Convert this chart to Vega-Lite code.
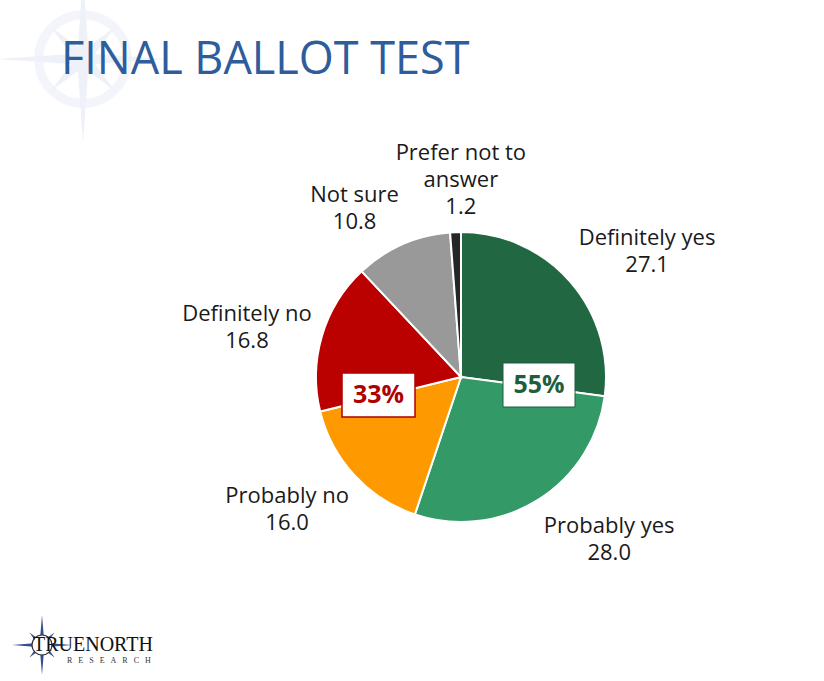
{
  "$schema": "https://vega.github.io/schema/vega-lite/v6.json",
  "width": 400,
  "height": 400,
  "autosize": "none",
  "padding": {"left": 261, "top": 177, "right": 163, "bottom": 104},
  "background": "white",
  "config": {"view": {"stroke": null}, "font": "Open Sans"},
  "title": {"text": "FINAL BALLOT TEST", "anchor": "start", "frame": "group", "font": "Open Sans", "fontSize": 45, "fontWeight": "normal", "color": "#2E5C9C", "dx": -200, "offset": -109},
  "datasets": {
    "slices": [
      {"i": 1, "name": "Definitely yes", "value": 27.1},
      {"i": 2, "name": "Probably yes", "value": 28.0},
      {"i": 3, "name": "Probably no", "value": 16.0},
      {"i": 4, "name": "Definitely no", "value": 16.8},
      {"i": 5, "name": "Not sure", "value": 10.8},
      {"i": 6, "name": "Prefer not to\nanswer", "value": 1.2}
    ],
    "summary": [
      {"group": "yes", "label": "55%"},
      {"group": "no", "label": "33%"}
    ],
    "logo": [
      {"part": "mark"}
    ]
  },
  "data": {"name": "slices"},
  "layer": [
    {
      "data": {"name": "logo"},
      "mark": {"type": "point", "shape": "circle", "filled": false, "stroke": "#EEF2F8", "strokeWidth": 9, "size": 7854},
      "encoding": {
        "x": {"datum": -1.89, "type": "quantitative", "scale": {"domain": [-1, 1], "nice": false, "zero": false}, "axis": null},
        "y": {"datum": 1.59, "type": "quantitative", "scale": {"domain": [-1, 1], "nice": false, "zero": false}, "axis": null}
      }
    },
    {
      "data": {"name": "logo"},
      "mark": {"type": "point", "shape": "M0,-1L0.06,-0.14L0.389,-0.389L0.14,-0.06L1,0L0.14,0.06L0.389,0.389L0.06,0.14L0,1L-0.06,0.14L-0.389,0.389L-0.14,0.06L-1,0L-0.14,-0.06L-0.389,-0.389L-0.06,-0.14Z", "filled": true, "fill": "#EEF2F8", "strokeWidth": 0, "opacity": 1, "size": 28900},
      "encoding": {
        "x": {"datum": -1.89, "type": "quantitative"},
        "y": {"datum": 1.59, "type": "quantitative"}
      }
    },
    {
      "mark": {"type": "arc", "outerRadius": 145, "stroke": "white", "strokeWidth": 2},
      "encoding": {
        "theta": {"field": "value", "type": "quantitative", "stack": true},
        "order": {"field": "i", "type": "quantitative"},
        "color": {
          "field": "name", "type": "nominal", "legend": null,
          "scale": {
            "domain": ["Definitely yes", "Probably yes", "Probably no", "Definitely no", "Not sure", "Prefer not to\nanswer"],
            "range": ["#216741", "#339966", "#FF9900", "#BB0000", "#999999", "#262626"]
          }
        }
      }
    },
    {
      "transform": [{"calculate": "datum.name + '\\n' + format(datum.value, '.1f')", "as": "lbl"}],
      "encoding": {
        "theta": {"field": "value", "type": "quantitative", "stack": true},
        "order": {"field": "i", "type": "quantitative"},
        "detail": {"field": "name", "type": "nominal"}
      },
      "layer": [
        {
          "mark": {"type": "text", "radius": 232, "thetaOffset": 0.0785, "fontSize": 22, "lineBreak": "\n", "lineHeight": 27, "color": "#1a1a1a", "align": "center", "baseline": "middle"},
          "encoding": {"text": {"condition": {"test": "datum.i === 1", "field": "lbl", "type": "nominal"}, "value": ""}}
        },
        {
          "mark": {"type": "text", "radius": 210, "thetaOffset": -0.227, "fontSize": 22, "lineBreak": "\n", "lineHeight": 27, "color": "#1a1a1a", "align": "center", "baseline": "middle"},
          "encoding": {"text": {"condition": {"test": "datum.i === 2", "field": "lbl", "type": "nominal"}, "value": ""}}
        },
        {
          "mark": {"type": "text", "radius": 210.5, "thetaOffset": 0.145, "fontSize": 22, "lineBreak": "\n", "lineHeight": 27, "color": "#1a1a1a", "align": "center", "baseline": "middle"},
          "encoding": {"text": {"condition": {"test": "datum.i === 3", "field": "lbl", "type": "nominal"}, "value": ""}}
        },
        {
          "mark": {"type": "text", "radius": 223, "thetaOffset": -0.003, "fontSize": 22, "lineBreak": "\n", "lineHeight": 27, "color": "#1a1a1a", "align": "center", "baseline": "middle"},
          "encoding": {"text": {"condition": {"test": "datum.i === 4", "field": "lbl", "type": "nominal"}, "value": ""}}
        },
        {
          "mark": {"type": "text", "radius": 210.5, "thetaOffset": -0.115, "fontSize": 22, "lineBreak": "\n", "lineHeight": 27, "color": "#1a1a1a", "align": "center", "baseline": "middle"},
          "encoding": {"text": {"condition": {"test": "datum.i === 5", "field": "lbl", "type": "nominal"}, "value": ""}}
        },
        {
          "mark": {"type": "text", "radius": 224.5, "thetaOffset": 0.037, "fontSize": 22, "lineBreak": "\n", "lineHeight": 27, "color": "#1a1a1a", "align": "center", "baseline": "middle"},
          "encoding": {"text": {"condition": {"test": "datum.i === 6", "field": "lbl", "type": "nominal"}, "value": ""}}
        }
      ]
    },
    {
      "data": {"name": "summary"},
      "transform": [{"filter": "datum.group === 'yes'"}],
      "mark": {"type": "rect", "fill": "white", "stroke": "#1E5E3C", "strokeWidth": 1},
      "encoding": {
        "x": {"datum": 0.21, "type": "quantitative"},
        "x2": {"datum": 0.57},
        "y": {"datum": 0.07, "type": "quantitative"},
        "y2": {"datum": -0.15}
      }
    },
    {
      "data": {"name": "summary"},
      "transform": [{"filter": "datum.group === 'yes'"}],
      "mark": {"type": "text", "fontSize": 25, "fontWeight": "bold", "color": "#1E5E3C", "align": "center", "baseline": "middle"},
      "encoding": {
        "x": {"datum": 0.39, "type": "quantitative"},
        "y": {"datum": -0.04, "type": "quantitative"},
        "text": {"field": "label", "type": "nominal"}
      }
    },
    {
      "data": {"name": "summary"},
      "transform": [{"filter": "datum.group === 'no'"}],
      "mark": {"type": "rect", "fill": "white", "stroke": "#B00000", "strokeWidth": 1.5},
      "encoding": {
        "x": {"datum": -0.595, "type": "quantitative"},
        "x2": {"datum": -0.23},
        "y": {"datum": 0.02, "type": "quantitative"},
        "y2": {"datum": -0.2}
      }
    },
    {
      "data": {"name": "summary"},
      "transform": [{"filter": "datum.group === 'no'"}],
      "mark": {"type": "text", "fontSize": 25, "fontWeight": "bold", "color": "#B00000", "align": "center", "baseline": "middle"},
      "encoding": {
        "x": {"datum": -0.4125, "type": "quantitative"},
        "y": {"datum": -0.09, "type": "quantitative"},
        "text": {"field": "label", "type": "nominal"}
      }
    },
    {
      "data": {"name": "logo"},
      "mark": {"type": "point", "shape": "M0,-1L0.07,-0.17L0.42,-0.42L0.17,-0.07L1,0L0.17,0.07L0.42,0.42L0.07,0.17L0,1L-0.07,0.17L-0.42,0.42L-0.17,0.07L-1,0L-0.17,-0.07L-0.42,-0.42L-0.07,-0.17Z", "filled": true, "fill": "#34518F", "strokeWidth": 0, "opacity": 1, "size": 3600},
      "encoding": {
        "x": {"datum": -2.095, "type": "quantitative"},
        "y": {"datum": -1.34, "type": "quantitative"}
      }
    },
    {
      "data": {"name": "logo"},
      "mark": {"type": "point", "shape": "circle", "filled": true, "fill": "white", "stroke": "#333333", "strokeWidth": 1.2, "opacity": 1, "size": 400},
      "encoding": {
        "x": {"datum": -2.095, "type": "quantitative"},
        "y": {"datum": -1.34, "type": "quantitative"}
      }
    },
    {
      "data": {"name": "logo"},
      "mark": {"type": "text", "text": "TRUENORTH", "font": "Liberation Serif", "fontSize": 20, "color": "#111111", "align": "left", "baseline": "alphabetic"},
      "encoding": {
        "x": {"datum": -2.14, "type": "quantitative"},
        "y": {"datum": -1.37, "type": "quantitative"}
      }
    },
    {
      "data": {"name": "logo"},
      "mark": {"type": "text", "text": "R\u00a0\u00a0\u00a0E\u00a0\u00a0\u00a0S\u00a0\u00a0\u00a0E\u00a0\u00a0\u00a0A\u00a0\u00a0\u00a0R\u00a0\u00a0\u00a0C\u00a0\u00a0\u00a0H", "font": "Liberation Serif", "fontSize": 8, "color": "#333333", "align": "left", "baseline": "alphabetic"},
      "encoding": {
        "x": {"datum": -1.97, "type": "quantitative"},
        "y": {"datum": -1.43, "type": "quantitative"}
      }
    }
  ]
}
